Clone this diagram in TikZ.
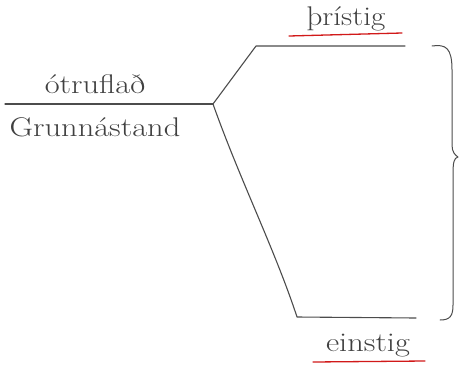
\documentclass[tikz,border=0pt]{standalone}
\usepackage{fontspec}
\begin{document}
\begin{tikzpicture}[x=1pt,y=-1pt,
  ln/.style={draw=black!70, line width=1.1pt, line join=round, line cap=round},
  ul/.style={draw=red!80!black!90!white, line width=1.3pt, line cap=round},
  lbl/.style={inner sep=0pt, font=\fontsize{27}{31}\selectfont, text=black!75}]
\useasboundingbox (0,0) rectangle (462,388);
% levels
\coordinate (L0) at (5,104);
\coordinate (J) at (213,104);
\coordinate (T1) at (256,46);
\coordinate (T2) at (405,46);
\coordinate (B1) at (297,317);
\coordinate (B2) at (416,318);
\draw[ln] (L0) -- (J);
\draw[ln] (J) -- (T1) -- (T2);
\draw[ln] (J) .. controls (240,180) and (275,250) .. (B1) -- (B2);
% brace
\coordinate (brT) at (432,46);
\coordinate (brM) at (458,157);
\coordinate (brB) at (440,320);
\draw[ln, line width=1pt] (brT) .. controls (446,44) and (452,48) .. (452,70)
  -- (452,145) .. controls (452,152) and (455,155) .. (brM)
  .. controls (454,158) and (453,162) .. (453,175)
  -- (453,305) .. controls (453,316) and (450,320) .. (brB);
% labels
\node[lbl, xscale=1.2] (otr) at (95,84) {ótruflað};
\node[lbl, xscale=1.2] (grunn) at (95,127) {Grunnástand};
\node[lbl, xscale=1.15] (thri) at (346,19) {þrístig};
\node[lbl, xscale=1.2] (ein) at (368,346) {einstig};
\coordinate (u1a) at (289,36);
\coordinate (u1b) at (402,33);
\coordinate (u2a) at (313,362);
\coordinate (u2b) at (425,361);
\draw[ul] (u1a) -- (u1b);
\draw[ul] (u2a) -- (u2b);
\end{tikzpicture}
\end{document}
